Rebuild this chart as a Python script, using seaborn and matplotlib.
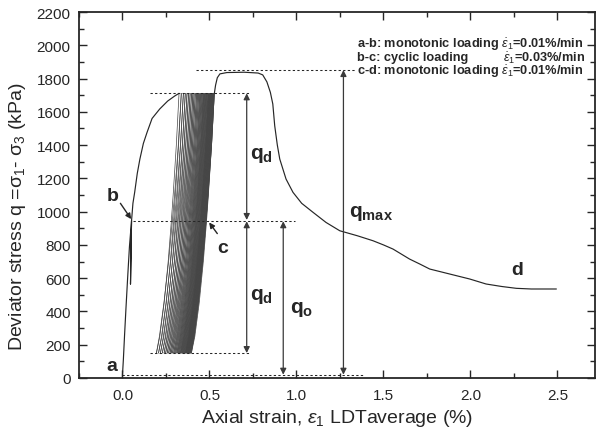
import numpy as np
import pandas as pd
import matplotlib
matplotlib.use("Agg")
import matplotlib.pyplot as plt
import seaborn as sns

# ---------------- data ----------------
# a-b : monotonic loading (strain %, deviator stress kPa)
ab_strain = [0.0, 0.0, 0.005, 0.012, 0.020, 0.030, 0.040, 0.052, 0.049, 0.046, 0.049, 0.052,
             0.060, 0.070, 0.085, 0.100, 0.120, 0.141, 0.170, 0.214, 0.260, 0.300, 0.325]
ab_stress = [0, 20, 110, 260, 420, 610, 790, 945, 760, 565, 760, 945,
             1050, 1116, 1230, 1316, 1410, 1476, 1560, 1617, 1665, 1695, 1711]

# b-c : cyclic loading, strain at top (q = 1711) and bottom (q = 150) of each cycle
cycle_top = [0.325, 0.338, 0.350, 0.361, 0.371, 0.380, 0.389, 0.397, 0.405, 0.412,
             0.419, 0.426, 0.432, 0.438, 0.444, 0.449, 0.454, 0.459, 0.464, 0.468,
             0.472, 0.476, 0.480, 0.484, 0.488, 0.492, 0.495, 0.498, 0.501, 0.504,
             0.507, 0.510, 0.513, 0.516, 0.519, 0.522, 0.525, 0.528]
cycle_bottom = [0.195, 0.207, 0.218, 0.229, 0.239, 0.248, 0.257, 0.265, 0.273, 0.280,
                0.287, 0.294, 0.300, 0.306, 0.312, 0.317, 0.322, 0.327, 0.332, 0.336,
                0.340, 0.344, 0.348, 0.352, 0.356, 0.360, 0.363, 0.366, 0.369, 0.372,
                0.375, 0.378, 0.381, 0.384, 0.387, 0.390, 0.393, 0.396]
# shape of one unloading branch: stress levels and fraction of the strain drop reached
unload_q = [1711, 1400, 1100, 942, 700, 450, 250, 150]
unload_f = [0.0, 0.12, 0.26, 0.34, 0.48, 0.66, 0.85, 1.0]
# shape of one reloading branch
reload_q = [150, 250, 450, 700, 942, 1100, 1400, 1711]
reload_f = [0.0, 0.12, 0.30, 0.49, 0.64, 0.73, 0.88, 1.0]

# c-d : monotonic loading after cycling
cd_strain = [0.528, 0.535, 0.545, 0.560, 0.600, 0.700, 0.780, 0.806, 0.830, 0.850, 0.864,
             0.875, 0.890, 0.904, 0.940, 0.980, 1.030, 1.095, 1.170, 1.249, 1.350, 1.440,
             1.500, 1.555, 1.650, 1.709, 1.766, 1.900, 1.996, 2.090, 2.180, 2.264, 2.350, 2.494]
cd_stress = [1711, 1760, 1805, 1828, 1836, 1838, 1833, 1822, 1780, 1717, 1647,
             1516, 1400, 1316, 1196, 1116, 1050, 996, 935, 885, 855, 825,
             800, 775, 715, 685, 655, 620, 595, 565, 550, 539, 535, 535]

# reference (dotted) lines: stress level, strain start, strain end
ref_q = [1851, 1711, 942, 150, 20]
ref_x0 = [0.425, 0.157, 0.060, 0.157, 0.0]
ref_x1 = [1.335, 0.730, 0.990, 0.730, 1.380]

# dimension arrows: strain, stress from, stress to
arrow_x = [0.714, 0.714, 0.924, 1.270]
arrow_q0 = [1711, 942, 942, 1851]
arrow_q1 = [950, 150, 20, 20]

# ---------------- build data frame ----------------
rows = []
for s, q in zip(ab_strain, ab_stress):
    rows.append(("ab", s, q))
n = len(cycle_top)
for i in range(n):
    xt, xb = cycle_top[i], cycle_bottom[i]
    seg = f"u{i}"
    for q, f in zip(unload_q, unload_f):
        rows.append((seg, xt - f * (xt - xb), q))
    xn = cycle_top[i + 1] if i + 1 < n else cd_strain[0]
    seg = f"r{i}"
    for q, f in zip(reload_q, reload_f):
        rows.append((seg, xb + f * (xn - xb), q))
for s, q in zip(cd_strain, cd_stress):
    rows.append(("cd", s, q))
df = pd.DataFrame(rows, columns=["seg", "strain", "stress"])
df_main = df[df.seg.isin(["ab", "cd"])]
df_cyc = df[~df.seg.isin(["ab", "cd"])]

# ---------------- style ----------------
sns.set_theme(style="ticks")
plt.rcParams["font.family"] = ["Liberation Sans", "DejaVu Sans"]
plt.rcParams["mathtext.fontset"] = "custom"
plt.rcParams["mathtext.rm"] = "Liberation Sans"
plt.rcParams["mathtext.it"] = "Liberation Sans:italic"
plt.rcParams["mathtext.bf"] = "Liberation Sans:bold"

fig = plt.figure(figsize=(5.99, 4.35), dpi=100)
ax = fig.add_axes([79 / 599, 1 - 379 / 435, (595 - 79) / 599, (379 - 13) / 435])

ink = "#262626"
sns.lineplot(data=df_cyc, x="strain", y="stress", units="seg", estimator=None,
             sort=False, color="#444444", lw=0.5, ax=ax, legend=False)
sns.lineplot(data=df_main, x="strain", y="stress", units="seg", estimator=None,
             sort=False, color=ink, lw=0.85, ax=ax, legend=False)

for q, x0, x1 in zip(ref_q, ref_x0, ref_x1):
    ax.plot([x0, x1], [q, q], color=ink, lw=0.75, ls=(0, (2.2, 2.2)))

for x, q0, q1 in zip(arrow_x, arrow_q0, arrow_q1):
    ax.annotate("", xy=(x, q1), xytext=(x, q0),
                arrowprops=dict(arrowstyle="<|-|>", color="#3a3a3a", lw=0.9,
                                mutation_scale=9, shrinkA=0, shrinkB=0))

ax.set_xlim(-0.25, 2.716)
ax.set_ylim(0, 2200)
ax.set_xticks([0.0, 0.5, 1.0, 1.5, 2.0, 2.5])
ax.set_xticks(np.arange(-0.25, 2.71, 0.25), minor=True)
ax.set_yticks(range(0, 2201, 200))
ax.set_yticks(range(0, 2201, 100), minor=True)
ax.set_xticklabels(["0.0", "0.5", "1.0", "1.5", "2.0", "2.5"])
ax.tick_params(which="both", direction="in", top=True, right=True, colors=ink,
               labelsize=11, width=1.0)
ax.tick_params(which="major", length=6, pad=6)
ax.tick_params(which="minor", length=3.5)
ax.tick_params(axis="x", pad=7)
for sp in ax.spines.values():
    sp.set_linewidth(1.3)
    sp.set_color(ink)

ax.set_xlabel("Axial strain, $ε_1$ LDTaverage (%)", fontsize=14, color=ink, va="center")
ax.set_ylabel("Deviator stress q =σ$_1$- σ$_3$ (kPa)", fontsize=14, color=ink, va="center")
ax.xaxis.set_label_coords(0.5, -(419 - 379) / 366)
ax.yaxis.set_label_coords((18 - 79) / 516, 0.443)

# point labels
lbl = dict(fontsize=14, fontweight="bold", color=ink, ha="center", va="center")
ax.text(-0.062, 74, "a", **lbl)
ax.text(-0.054, 1096, "b", **lbl)
ax.text(0.578, 785, "c", **lbl)
ax.text(2.27, 650, "d", **lbl)
ax.annotate("", xy=(0.050, 955), xytext=(-0.012, 1050),
            arrowprops=dict(arrowstyle="-|>", color=ink, lw=1.0, mutation_scale=8,
                            shrinkA=0, shrinkB=0))
ax.annotate("", xy=(0.498, 935), xytext=(0.545, 868),
            arrowprops=dict(arrowstyle="-|>", color=ink, lw=1.0, mutation_scale=8,
                            shrinkA=0, shrinkB=0))

ql = dict(fontsize=15, color=ink, ha="left", va="center")
ax.text(0.733, 1346, r"$\mathbf{q_d}$", **ql)
ax.text(0.733, 496, r"$\mathbf{q_d}$", **ql)
ax.text(0.963, 415, r"$\mathbf{q_o}$", **ql)
ax.text(1.303, 996, r"$\mathbf{q_{max}}$", **ql)

# loading-phase notes
nt = dict(fontsize=9.2, fontweight="bold", color=ink, va="center", transform=ax.transAxes)
def ax_xy(px, py):
    return (px - 79) / 516, (379 - py) / 366
x_left, y1 = ax_xy(357, 45)
x_right, y2 = ax_xy(585, 58.5)
_, y3 = ax_xy(357, 72)
ax.text(x_left, y1, r"a-b: monotonic loading $\dot{ε}_1$=0.01%/min", ha="left", **nt)
ax.text(x_left, y2, "b-c: cyclic loading", ha="left", **nt)
ax.text(x_right, y2, r"$\dot{ε}_1$=0.03%/min", ha="right", **nt)
ax.text(x_left, y3, r"c-d: monotonic loading $\dot{ε}_1$=0.01%/min", ha="left", **nt)

fig.savefig("out.png", dpi=100)
